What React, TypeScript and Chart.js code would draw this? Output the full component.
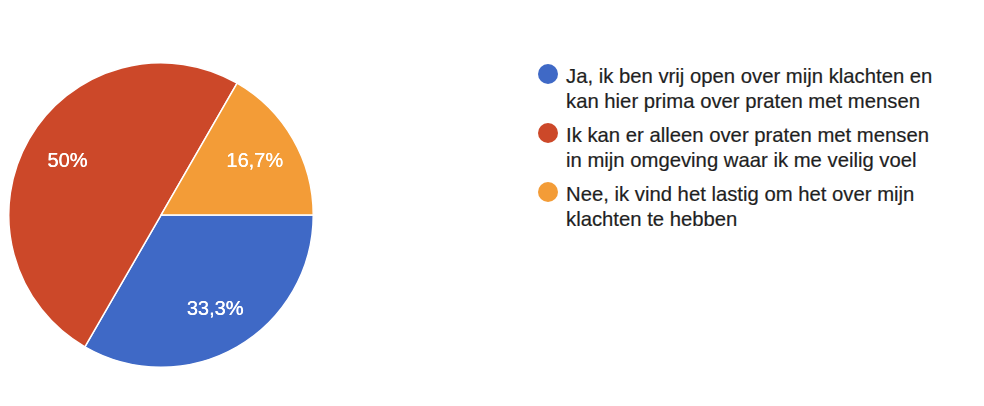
import React, { useEffect, useRef } from "react";
import { Chart, registerables } from "chart.js";

Chart.register(...registerables);

const categories: string[] = [
  "Ja, ik ben vrij open over mijn klachten en kan hier prima over praten met mensen",
  "Ik kan er alleen over praten met mensen in mijn omgeving waar ik me veilig voel",
  "Nee, ik vind het lastig om het over mijn klachten te hebben",
];
const legendLines: string[][] = [
  ["Ja, ik ben vrij open over mijn klachten en", "kan hier prima over praten met mensen"],
  ["Ik kan er alleen over praten met mensen", "in mijn omgeving waar ik me veilig voel"],
  ["Nee, ik vind het lastig om het over mijn", "klachten te hebben"],
];
const values: number[] = [2, 3, 1];
const percentLabels: string[] = ["33,3%", "50%", "16,7%"];
const colors: string[] = ["#3F69C6", "#CC4829", "#F39C37"];

const FONT = "'Liberation Sans', Arial, Helvetica, sans-serif";

const labelPlugin = {
  id: "sliceLabels",
  afterDatasetsDraw(chart: any) {
    const ctx = chart.ctx;
    const meta = chart.getDatasetMeta(0);
    ctx.save();
    ctx.fillStyle = "#ffffff";
    ctx.font = `20px ${FONT}`;
    ctx.textAlign = "center";
    ctx.textBaseline = "middle";
    meta.data.forEach((arc: any, i: number) => {
      const p = arc.getProps(["x", "y", "startAngle", "endAngle", "outerRadius"], true);
      const mid = (p.startAngle + p.endAngle) / 2;
      const r = p.outerRadius * 0.71;
      const x = p.x + Math.cos(mid) * r;
      const y = p.y + Math.sin(mid) * r + 1;
      ctx.fillText(percentLabels[i], x, y);
      ctx.fillText(percentLabels[i], x + 0.3, y);
    });
    ctx.restore();
  },
};

export default function App() {
  const canvasRef = useRef<HTMLCanvasElement | null>(null);

  useEffect(() => {
    if (!canvasRef.current) return;
    const chart = new Chart(canvasRef.current, {
      type: "pie",
      data: {
        labels: categories,
        datasets: [
          {
            data: values,
            backgroundColor: colors,
            borderColor: "#ffffff",
            borderWidth: 1.5,
          },
        ],
      },
      options: {
        animation: false,
        responsive: true,
        maintainAspectRatio: false,
        rotation: 90,
        plugins: {
          legend: { display: false },
          tooltip: { enabled: false },
        },
      },
      plugins: [labelPlugin],
    });
    return () => chart.destroy();
  }, []);

  return (
    <div style={{ position: "relative", width: 968, height: 390, fontFamily: FONT }}>
      <div style={{ position: "absolute", left: 0, top: 54, width: 306, height: 306 }}>
        <canvas ref={canvasRef} />
      </div>
      <div style={{ position: "absolute", left: 528, top: 56 }}>
        {legendLines.map((lines, i) => (
          <div key={i} style={{ position: "relative", paddingLeft: 30, marginBottom: 9 }}>
            <div
              style={{
                position: "absolute",
                left: 2,
                top: 0,
                width: 20,
                height: 20,
                borderRadius: "50%",
                background: colors[i],
              }}
            />
            {lines.map((l, j) => (
              <div
                key={j}
                style={{
                  fontSize: 20.3,
                  lineHeight: "25px",
                  color: "#1f1f1f",
                  whiteSpace: "nowrap",
                  WebkitTextStroke: "0.2px #1f1f1f",
                }}
              >
                {l}
              </div>
            ))}
          </div>
        ))}
      </div>
    </div>
  );
}
